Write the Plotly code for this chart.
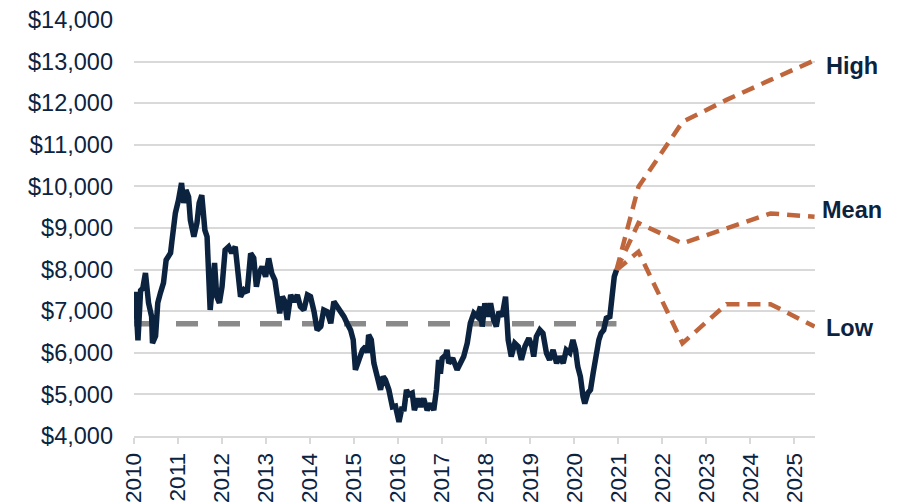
import plotly.graph_objects as go

# Historical price (decimal year, US$/t)
hist_year = [2010.03, 2010.09, 2010.15, 2010.20, 2010.26, 2010.33, 2010.40, 2010.42, 2010.49, 2010.54,
             2010.60, 2010.67, 2010.73, 2010.83, 2010.86, 2010.94, 2011.01, 2011.08, 2011.13, 2011.18,
             2011.24, 2011.28, 2011.36, 2011.43, 2011.48, 2011.54, 2011.61, 2011.66, 2011.73, 2011.79,
             2011.83, 2011.88, 2011.94, 2012.00, 2012.07, 2012.15, 2012.22, 2012.30, 2012.42, 2012.50,
             2012.57, 2012.65, 2012.72, 2012.78, 2012.84, 2012.91, 2012.99, 2013.06, 2013.13, 2013.20,
             2013.26, 2013.31, 2013.37, 2013.42, 2013.48, 2013.56, 2013.63, 2013.71, 2013.78, 2013.86,
             2013.94, 2014.01, 2014.09, 2014.16, 2014.24, 2014.31, 2014.39, 2014.47, 2014.54, 2014.62,
             2014.69, 2014.77, 2014.84, 2014.92, 2014.98, 2015.03, 2015.11, 2015.19, 2015.26, 2015.30,
             2015.33, 2015.39, 2015.45, 2015.53, 2015.60, 2015.66, 2015.71, 2015.79, 2015.87, 2015.94,
             2016.02, 2016.09, 2016.13, 2016.19, 2016.24, 2016.32, 2016.37, 2016.45, 2016.51, 2016.58,
             2016.66, 2016.74, 2016.81, 2016.87, 2016.92, 2016.96, 2017.00, 2017.08, 2017.11, 2017.15,
             2017.24, 2017.34, 2017.42, 2017.49, 2017.57, 2017.64, 2017.72, 2017.80, 2017.87, 2017.91,
             2017.97, 2018.04, 2018.10, 2018.17, 2018.23, 2018.29, 2018.36, 2018.44, 2018.50, 2018.57,
             2018.65, 2018.73, 2018.80, 2018.88, 2018.97, 2019.04, 2019.08, 2019.14, 2019.22, 2019.29,
             2019.37, 2019.44, 2019.52, 2019.60, 2019.67, 2019.75, 2019.82, 2019.90, 2019.97, 2020.03,
             2020.08, 2020.14, 2020.20, 2020.24, 2020.31, 2020.37, 2020.43, 2020.48, 2020.56, 2020.61,
             2020.67, 2020.73, 2020.81, 2020.86, 2020.91, 2020.96]
hist_price = [7470, 6300, 7500, 7550, 7920, 7200, 6870, 6230, 6400, 7200,
              7440, 7680, 8230, 8400, 8670, 9360, 9670, 10080, 9600, 9910,
              9750, 9190, 8790, 9120, 9600, 9790, 8950, 8790, 7030, 7590,
              8160, 7350, 7200, 7590, 8470, 8550, 8400, 8550, 7350, 7510,
              7450, 8390, 8280, 7590, 7910, 8070, 7830, 8270, 7910, 7750,
              7350, 6950, 7350, 7250, 6790, 7390, 7230, 7390, 7110, 7030,
              7390, 7350, 6990, 6550, 6630, 7030, 6990, 6710, 7230, 7110,
              7000, 6870, 6710, 6550, 6310, 5590, 5830, 6070, 6150, 6000,
              6430, 6310, 5750, 5350, 5110, 5430, 5350, 5110, 4700, 4720,
              4340, 4700, 4600, 5110, 4990, 5030, 4620, 4900, 4700, 4900,
              4620, 4780, 4620, 5110, 5830, 5500, 5870, 5950, 6070, 5750,
              5870, 5590, 5750, 5910, 6230, 6710, 6950, 6870, 7110, 6630,
              7190, 6870, 7190, 6790, 6630, 6990, 6870, 7350, 6310, 5910,
              6230, 6150, 5830, 6150, 6350, 6150, 5910, 6390, 6550, 6470,
              5990, 5830, 6070, 5750, 5910, 5750, 6070, 6000, 6310, 6070,
              5670, 5430, 4950, 4780, 5030, 5110, 5510, 5910, 6310, 6470,
              6550, 6830, 6870, 7350, 7830, 7990]

# Long-run average
avg_year = [2010.0, 2020.96]
avg_price = [6700, 6700]

# Forecast scenarios
fc_year = [2020.96, 2021.46, 2022.46, 2023.46, 2024.46, 2025.46]
fc_high = [7990, 9990, 11550, 12080, 12560, 13030]
fc_mean = [7990, 9120, 8630, 8980, 9350, 9270]
fc_low = [7990, 8430, 6230, 7170, 7170, 6630]
scenario_names = ["High", "Mean", "Low"]

x_ticks = list(range(2010, 2026))
y_ticks = list(range(4000, 14001, 1000))

NAVY = "#0C2340"
RUST = "#C0663C"
GREY = "#8A8A8A"
FONT = "Liberation Sans, Arial, sans-serif"
FS = 23.5

fig = go.Figure()
fig.add_trace(go.Scatter(x=avg_year, y=avg_price, mode="lines",
                         line=dict(color=GREY, width=5.5, dash="22px,20px"),
                         hoverinfo="skip", showlegend=False))
for name, vals in zip(scenario_names, [fc_high, fc_mean, fc_low]):
    fig.add_trace(go.Scatter(x=fc_year, y=vals, mode="lines", name=name,
                             line=dict(color=RUST, width=4.5, dash="13px,8px"),
                             showlegend=False))
fig.add_trace(go.Scatter(x=hist_year, y=hist_price, mode="lines",
                         line=dict(color=NAVY, width=5.5),
                         showlegend=False))

label_shift = {"High": -6, "Mean": 7, "Low": -1}
label_xshift = {"High": 9, "Mean": 5, "Low": 9}
for name, vals in zip(scenario_names, [fc_high, fc_mean, fc_low]):
    fig.add_annotation(x=fc_year[-1], y=vals[-1], text="<b>%s</b>" % name,
                       showarrow=False, xanchor="left", yanchor="middle",
                       xshift=label_xshift[name], yshift=label_shift[name],
                       font=dict(family=FONT, size=FS, color=NAVY))

fig.update_layout(
    width=902, height=504,
    margin=dict(l=134, r=87, t=20, b=68),
    paper_bgcolor="white", plot_bgcolor="white",
    font=dict(family=FONT, size=FS, color=NAVY),
)
fig.update_xaxes(range=[2010, 2025.47], tickvals=x_ticks, ticktext=[str(v) for v in x_ticks],
                 tickangle=-90, showgrid=False, showline=True, linecolor="#D9D9D9", linewidth=2,
                 ticks="outside", ticklen=6, tickcolor="#D9D9D9", tickwidth=2, automargin=False,
                 tickfont=dict(family=FONT, size=22.5, color=NAVY), zeroline=False)
fig.update_yaxes(range=[4000, 14000], tickvals=y_ticks,
                 ticktext=["${:,}".format(v) for v in y_ticks],
                 showgrid=True, gridcolor="#D9D9D9", gridwidth=2, zeroline=False,
                 showline=False, ticklabelstandoff=20, automargin=False,
                 tickfont=dict(family=FONT, size=FS, color=NAVY))

fig.write_html("out.html", config={"displayModeBar": False},
               post_script="document.body.style.margin='0';document.body.style.overflow='hidden';")
